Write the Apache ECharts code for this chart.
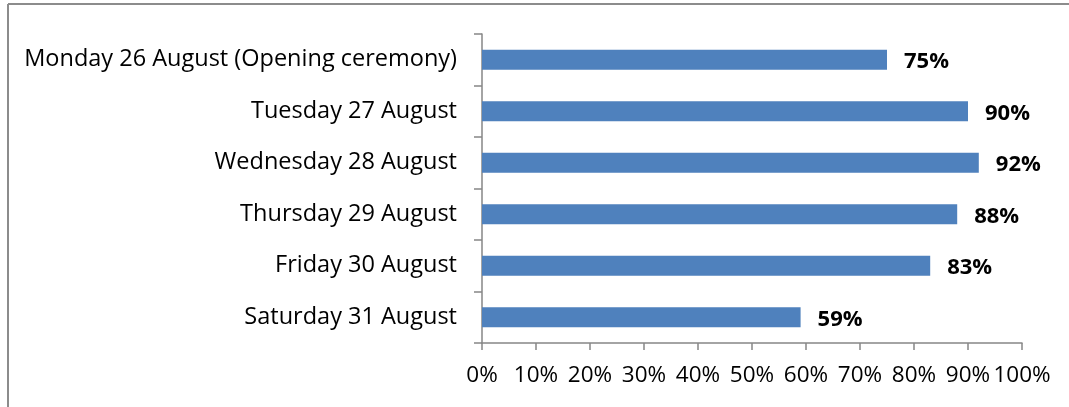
<!DOCTYPE html>
<html>
<head>
<meta charset="utf-8">
<script src="https://cdn.jsdelivr.net/npm/echarts@6/dist/echarts.min.js"></script>
<style>
  html, body { margin: 0; padding: 0; background: #fff; }
  #chart { width: 1069px; height: 407px; }
</style>
</head>
<body>
<div id="chart"></div>
<script>
// Attendance share by festival day
const days = [
  'Monday 26 August (Opening ceremony)',
  'Tuesday 27 August',
  'Wednesday 28 August',
  'Thursday 29 August',
  'Friday 30 August',
  'Saturday 31 August'
];
const shares = [75, 90, 92, 88, 83, 59];
const xTicks = [0, 10, 20, 30, 40, 50, 60, 70, 80, 90, 100];

const FONT = 'Open Sans';
const axisGray = '#868686';

const chart = echarts.init(document.getElementById('chart'), null, { renderer: 'canvas' });
chart.setOption({
  animation: false,
  backgroundColor: '#ffffff',
  grid: { left: 482, right: 47, top: 34, bottom: 64, containLabel: false },
  xAxis: {
    type: 'value',
    min: xTicks[0],
    max: xTicks[xTicks.length - 1],
    interval: 10,
    axisLine: { show: true, lineStyle: { color: axisGray, width: 1.5 } },
    axisTick: { show: true, length: 7, lineStyle: { color: axisGray, width: 1.5 } },
    splitLine: { show: false },
    axisLabel: {
      margin: 21,
      color: '#000',
      fontFamily: FONT,
      fontSize: 22.5,
      formatter: v => v + '%'
    }
  },
  yAxis: {
    type: 'category',
    inverse: true,
    data: days,
    axisLine: { show: true, lineStyle: { color: axisGray, width: 1.5 } },
    axisTick: { show: true, length: 8, lineStyle: { color: axisGray, width: 1.5 } },
    axisLabel: {
      margin: 25,
      color: '#000',
      fontFamily: FONT,
      fontSize: 23.5,
      padding: [5, 0, 0, 0]
    }
  },
  series: [{
    type: 'bar',
    data: shares,
    barWidth: 20,
    itemStyle: { color: '#4f81bd' },
    label: {
      show: true,
      position: 'right',
      distance: 17,
      offset: [0, 2],
      color: '#000',
      fontFamily: FONT,
      fontWeight: 'bold',
      fontSize: 22,
      formatter: p => p.value + '%'
    }
  }],
  graphic: [
    { type: 'line', shape: { x1: 8, y1: 4, x2: 1069, y2: 4 }, style: { stroke: '#8c8c8c', lineWidth: 2 }, silent: true },
    { type: 'line', shape: { x1: 8, y1: 4, x2: 8, y2: 407 }, style: { stroke: '#8c8c8c', lineWidth: 2 }, silent: true }
  ]
});
</script>
</body>
</html>
